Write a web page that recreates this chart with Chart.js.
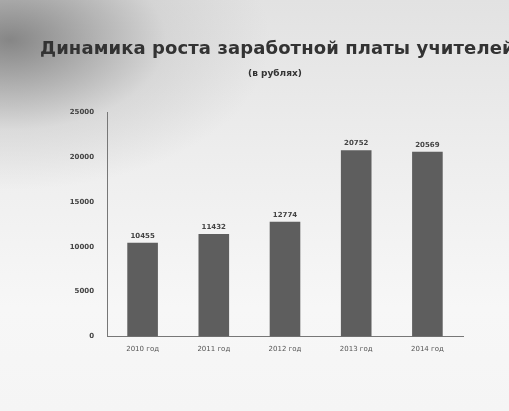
<!DOCTYPE html>
<html>
<head>
<meta charset="utf-8">
<script src="https://cdn.jsdelivr.net/npm/chart.js@4.4.1/dist/chart.umd.min.js"></script>
<style>
  html, body { margin: 0; padding: 0; }
  body {
    width: 509px; height: 411px; overflow: hidden;
    background:
      radial-gradient(ellipse 260px 150px at 10px 40px, rgba(110,110,110,0.8), rgba(180,180,180,0.3) 60%, rgba(255,255,255,0) 100%),
      linear-gradient(180deg, #e2e2e2 0%, #eeeeee 40%, #f7f7f7 75%, #f5f5f5 100%);
  }
  #wrap { position: relative; width: 509px; height: 411px; }
  .ttl {
    position: absolute; left: 40px; width: 470px; text-align: center;
    font-family: "DejaVu Sans", sans-serif; font-weight: bold; color: #333;
    white-space: nowrap;
  }
  #t1 { top: 37px; font-size: 18px; letter-spacing: 0.1px; }
  #t2 { top: 68px; font-size: 9px; }
  canvas { position: absolute; left: 0; top: 0; }
</style>
</head>
<body>
<div id="wrap">
  <canvas id="c" width="509" height="411"></canvas>
  <div class="ttl" id="t1">Динамика роста заработной платы учителей</div>
  <div class="ttl" id="t2">(в рублях)</div>
</div>
<script>
// Данные диаграммы
const years = ['2010 год', '2011 год', '2012 год', '2013 год', '2014 год'];
const salary = [10455, 11432, 12774, 20752, 20569];
const yTicks = [0, 5000, 10000, 15000, 20000, 25000];

// подписи значений над столбцами
const valueLabels = {
  id: 'valueLabels',
  afterDatasetsDraw(chart) {
    const ctx = chart.ctx;
    const meta = chart.getDatasetMeta(0);
    ctx.save();
    ctx.font = 'bold 7px "DejaVu Sans"';
    ctx.fillStyle = '#444';
    ctx.textAlign = 'center';
    ctx.textBaseline = 'bottom';
    meta.data.forEach((bar, i) => {
      ctx.fillText(String(salary[i]), bar.x, bar.y - 3);
    });
    ctx.restore();
  }
};

new Chart(document.getElementById('c').getContext('2d'), {
  type: 'bar',
  data: {
    labels: years,
    datasets: [{
      data: salary,
      backgroundColor: '#5e5e5e',
      borderWidth: 0,
      barPercentage: 0.43,
      categoryPercentage: 1
    }]
  },
  options: {
    responsive: false,
    animation: false,
    layout: { padding: { top: 112, right: 46, bottom: 50, left: 0 } },
    plugins: {
      legend: { display: false },
      tooltip: { enabled: false }
    },
    scales: {
      x: {
        grid: { display: false, drawTicks: false },
        border: { display: true, color: '#777' },
        ticks: { color: '#555', font: { family: '"DejaVu Sans"', size: 7 }, padding: 8 }
      },
      y: {
        min: 0,
        max: 25000,
        afterBuildTicks: (axis) => { axis.ticks = yTicks.map(v => ({ value: v })); },
        afterFit: (axis) => { axis.width = 107; },
        grid: { display: false, drawTicks: true, tickLength: 5, tickColor: '#888' },
        border: { display: true, color: '#777' },
        ticks: {
          color: '#444',
          font: { family: '"DejaVu Sans"', size: 7, weight: 'bold' },
          padding: 8,
          callback: (v) => String(v)
        }
      }
    }
  },
  plugins: [valueLabels]
});
</script>
</body>
</html>
